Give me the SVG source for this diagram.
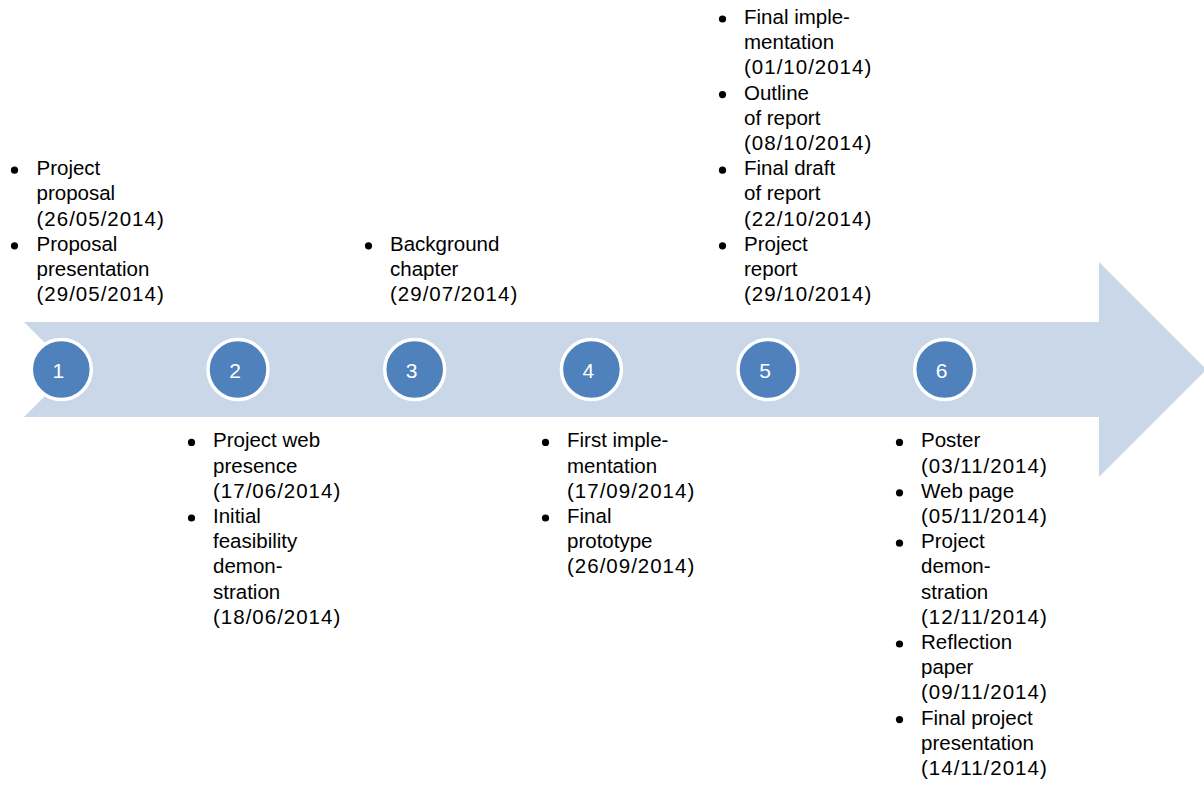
<svg xmlns="http://www.w3.org/2000/svg" width="1204" height="785" viewBox="0 0 1204 785">
<style>
.t{font-family:"Liberation Sans",Arial,sans-serif;font-size:20.5px;fill:#000}
.d{letter-spacing:1px}
.b{fill:#000}
.c{fill:#4F81BD;stroke:#fff;stroke-width:3.5}
.n{font-family:"Liberation Sans",Arial,sans-serif;font-size:21px;fill:#fff;text-anchor:middle}
</style>
<rect width="1204" height="785" fill="#fff"/>
<g id="arrow">
<polygon points="24,322 1099,322 1099,262 1206.5,369.5 1099,477 1099,417 24,417 71.5,369.5" fill="#C9D7E8"/>
</g>
<g id="step1"><circle class="c" cx="61.3" cy="369.5" r="30"/><text class="n" x="58.3" y="377.5">1</text></g>
<g id="step2"><circle class="c" cx="238" cy="369.5" r="30"/><text class="n" x="235" y="377.5">2</text></g>
<g id="step3"><circle class="c" cx="414.7" cy="369.5" r="30"/><text class="n" x="411.7" y="377.5">3</text></g>
<g id="step4"><circle class="c" cx="591.4" cy="369.5" r="30"/><text class="n" x="588.4" y="377.5">4</text></g>
<g id="step5"><circle class="c" cx="768" cy="369.5" r="30"/><text class="n" x="765" y="377.5">5</text></g>
<g id="step6"><circle class="c" cx="944.7" cy="369.5" r="30"/><text class="n" x="941.7" y="377.5">6</text></g>

<g id="notes1">
<circle class="b" cx="14.5" cy="170.2" r="3.6"/>
<circle class="b" cx="14.5" cy="245.8" r="3.6"/>
<text class="t" x="36.5" y="175.2">Project<tspan x="36.5" dy="25.2">proposal</tspan><tspan class="d" x="36.5" dy="25.2">(26/05/2014)</tspan><tspan x="36.5" dy="25.2">Proposal</tspan><tspan x="36.5" dy="25.2">presentation</tspan><tspan class="d" x="36.5" dy="25.2">(29/05/2014)</tspan></text>
</g>
<g id="notes2">
<circle class="b" cx="191.5" cy="442.4" r="3.6"/>
<circle class="b" cx="191.5" cy="518" r="3.6"/>
<text class="t" x="213" y="447.4">Project web<tspan x="213" dy="25.2">presence</tspan><tspan class="d" x="213" dy="25.2">(17/06/2014)</tspan><tspan x="213" dy="25.2">Initial</tspan><tspan x="213" dy="25.2">feasibility</tspan><tspan x="213" dy="25.2">demon-</tspan><tspan x="213" dy="25.2">stration</tspan><tspan class="d" x="213" dy="25.2">(18/06/2014)</tspan></text>
</g>
<g id="notes3">
<circle class="b" cx="368.5" cy="245.8" r="3.6"/>
<text class="t" x="390" y="250.8">Background<tspan x="390" dy="25.2">chapter</tspan><tspan class="d" x="390" dy="25.2">(29/07/2014)</tspan></text>
</g>
<g id="notes4">
<circle class="b" cx="545.5" cy="442.4" r="3.6"/>
<circle class="b" cx="545.5" cy="518" r="3.6"/>
<text class="t" x="567" y="447.4">First imple-<tspan x="567" dy="25.2">mentation</tspan><tspan class="d" x="567" dy="25.2">(17/09/2014)</tspan><tspan x="567" dy="25.2">Final</tspan><tspan x="567" dy="25.2">prototype</tspan><tspan class="d" x="567" dy="25.2">(26/09/2014)</tspan></text>
</g>
<g id="notes5">
<circle class="b" cx="722.5" cy="19" r="3.6"/>
<circle class="b" cx="722.5" cy="94.6" r="3.6"/>
<circle class="b" cx="722.5" cy="170.2" r="3.6"/>
<circle class="b" cx="722.5" cy="245.8" r="3.6"/>
<text class="t" x="744" y="24">Final imple-<tspan x="744" dy="25.2">mentation</tspan><tspan class="d" x="744" dy="25.2">(01/10/2014)</tspan><tspan x="744" dy="25.2">Outline</tspan><tspan x="744" dy="25.2">of report</tspan><tspan class="d" x="744" dy="25.2">(08/10/2014)</tspan><tspan x="744" dy="25.2">Final draft</tspan><tspan x="744" dy="25.2">of report</tspan><tspan class="d" x="744" dy="25.2">(22/10/2014)</tspan><tspan x="744" dy="25.2">Project</tspan><tspan x="744" dy="25.2">report</tspan><tspan class="d" x="744" dy="25.2">(29/10/2014)</tspan></text>
</g>
<g id="notes6">
<circle class="b" cx="899.5" cy="442.4" r="3.6"/>
<circle class="b" cx="899.5" cy="492.8" r="3.6"/>
<circle class="b" cx="899.5" cy="543.2" r="3.6"/>
<circle class="b" cx="899.5" cy="644" r="3.6"/>
<circle class="b" cx="899.5" cy="719.6" r="3.6"/>
<text class="t" x="921" y="447.4">Poster<tspan class="d" x="921" dy="25.2">(03/11/2014)</tspan><tspan x="921" dy="25.2">Web page</tspan><tspan class="d" x="921" dy="25.2">(05/11/2014)</tspan><tspan x="921" dy="25.2">Project</tspan><tspan x="921" dy="25.2">demon-</tspan><tspan x="921" dy="25.2">stration</tspan><tspan class="d" x="921" dy="25.2">(12/11/2014)</tspan><tspan x="921" dy="25.2">Reflection</tspan><tspan x="921" dy="25.2">paper</tspan><tspan class="d" x="921" dy="25.2">(09/11/2014)</tspan><tspan x="921" dy="25.2">Final project</tspan><tspan x="921" dy="25.2">presentation</tspan><tspan class="d" x="921" dy="25.2">(14/11/2014)</tspan></text>
</g>
</svg>
